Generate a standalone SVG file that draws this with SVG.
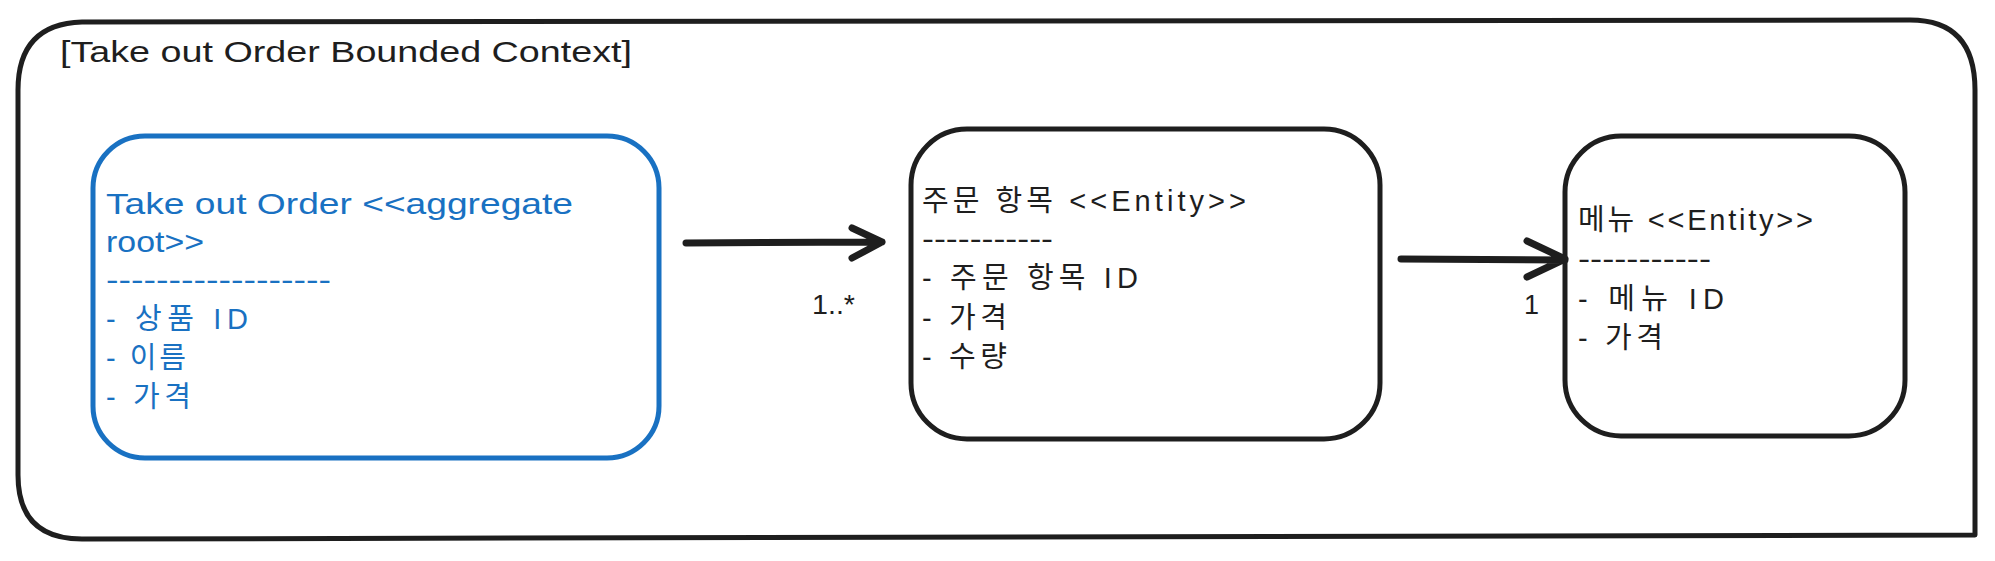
<svg xmlns="http://www.w3.org/2000/svg" width="1995" height="561" viewBox="0 0 1995 561">
<defs>
<style>
.frame{fill:none;stroke:#1e1e1e;stroke-width:5;stroke-linecap:round;stroke-linejoin:round}
.box{fill:none;stroke:#1e1e1e;stroke-width:5}
.blue{fill:none;stroke:#1971c2;stroke-width:5}
.t{font-family:"Liberation Sans","Noto Sans CJK KR",sans-serif;font-size:29px;fill:#1e1e1e}
.tb{font-family:"Liberation Sans","Noto Sans CJK KR",sans-serif;font-size:29px;fill:#1971c2}
.lbl{font-family:"Liberation Sans","Noto Sans CJK KR",sans-serif;font-size:27px;fill:#1e1e1e}
.arr{fill:none;stroke:#1e1e1e;stroke-width:7;stroke-linecap:round;stroke-linejoin:round}
</style>
</defs>
<rect width="1995" height="561" fill="#ffffff"/>
<g id="context">
<path class="frame" d="M82,22 L1910,20 Q1975,20 1975,90 L1975,535 L82,539 Q18,539 18,475 L18,90 Q18,24 82,22 Z"/>
<text class="t" x="60" y="62" textLength="572" lengthAdjust="spacingAndGlyphs">[Take out Order Bounded Context]</text>
</g>
<g id="aggregate-root">
<rect class="blue" x="93" y="136" width="566" height="322" rx="52" ry="52"/>
<text class="tb" x="106" y="214" textLength="467" lengthAdjust="spacingAndGlyphs">Take out Order &lt;&lt;aggregate</text>
<text class="tb" x="106" y="252" textLength="98" lengthAdjust="spacingAndGlyphs">root&gt;&gt;</text>
<text class="tb" x="106" y="290" textLength="225" lengthAdjust="spacingAndGlyphs">------------------</text>
<text class="tb" x="106" y="329" textLength="142" lengthAdjust="spacing">- 상품 ID</text>
<text class="tb" x="106" y="368" textLength="80" lengthAdjust="spacing">- 이름</text>
<text class="tb" x="106" y="407" textLength="85" lengthAdjust="spacing">- 가격</text>
</g>
<g id="order-item">
<rect class="box" x="911" y="129" width="469" height="310" rx="56" ry="56"/>
<text class="t" x="922" y="211" textLength="324" lengthAdjust="spacing">주문 항목  &lt;&lt;Entity&gt;&gt;</text>
<text class="t" x="922" y="249" textLength="131" lengthAdjust="spacingAndGlyphs">-----------</text>
<text class="t" x="922" y="288" textLength="216" lengthAdjust="spacing">- 주문 항목 ID</text>
<text class="t" x="922" y="328" textLength="85" lengthAdjust="spacing">- 가격</text>
<text class="t" x="922" y="367" textLength="85" lengthAdjust="spacing">- 수량</text>
</g>
<g id="menu">
<rect class="box" x="1565" y="136" width="340" height="300" rx="56" ry="56"/>
<text class="t" x="1578" y="230" textLength="235" lengthAdjust="spacing">메뉴 &lt;&lt;Entity&gt;&gt;</text>
<text class="t" x="1578" y="269" textLength="133" lengthAdjust="spacingAndGlyphs">-----------</text>
<text class="t" x="1578" y="309" textLength="146" lengthAdjust="spacing">- 메뉴 ID</text>
<text class="t" x="1578" y="348" textLength="85" lengthAdjust="spacing">- 가격</text>
</g>
<g id="connectors">
<path class="arr" d="M686,243 L882,242 M852,228 L882,242 L852,258"/>
<text class="lbl" x="812" y="314" textLength="43" lengthAdjust="spacingAndGlyphs">1..*</text>
<path class="arr" d="M1401,259 L1565,260 M1527,241 L1565,259 L1527,277"/>
<text class="lbl" x="1524" y="314">1</text>
</g>
</svg>
